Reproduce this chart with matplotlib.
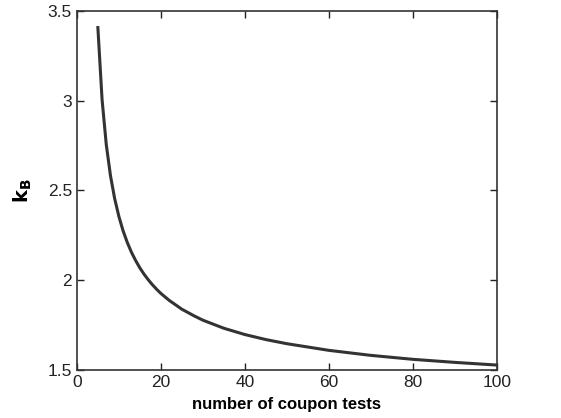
import matplotlib
matplotlib.use("Agg")
import matplotlib.pyplot as plt

plt.rcParams['font.family'] = ['Liberation Sans', 'DejaVu Sans']

n_tests = [5, 6, 7, 8, 9, 10, 11, 12, 13, 14, 15, 16, 17, 18, 19, 20, 22, 25, 28, 30, 35, 40, 45, 50, 60, 70, 80, 90, 100]
k_b = [3.407, 3.006, 2.755, 2.582, 2.454, 2.355, 2.275, 2.210, 2.155, 2.109, 2.068, 2.033, 2.002, 1.974, 1.949, 1.926,
       1.887, 1.838, 1.800, 1.777, 1.732, 1.697, 1.669, 1.646, 1.609, 1.581, 1.559, 1.542, 1.527]
x_ticks = [0, 20, 40, 60, 80, 100]
y_ticks = [1.5, 2, 2.5, 3, 3.5]

fig = plt.figure(figsize=(5.61, 4.18), dpi=100)
ax = fig.add_axes([0.137, 0.115, 0.749, 0.859])
ax.plot(n_tests, k_b, color='#333333', linewidth=2.2)
ax.set_xlim(0, 100)
ax.set_ylim(1.5, 3.5)
ax.set_xticks(x_ticks)
ax.set_yticks(y_ticks)
ax.set_yticklabels(['1.5', '2', '2.5', '3', '3.5'])
ax.tick_params(direction='in', top=True, right=True, labelsize=12.5, length=5, width=1, colors='#222222')
for s in ax.spines.values():
    s.set_color('#333333')
    s.set_linewidth(1.2)
ax.set_xlabel('number of coupon tests', fontsize=12, fontweight='bold', labelpad=5)
ax.set_ylabel(r'$\mathbf{k_B}$', fontsize=14, labelpad=10)
fig.savefig('out.png', dpi=100)
